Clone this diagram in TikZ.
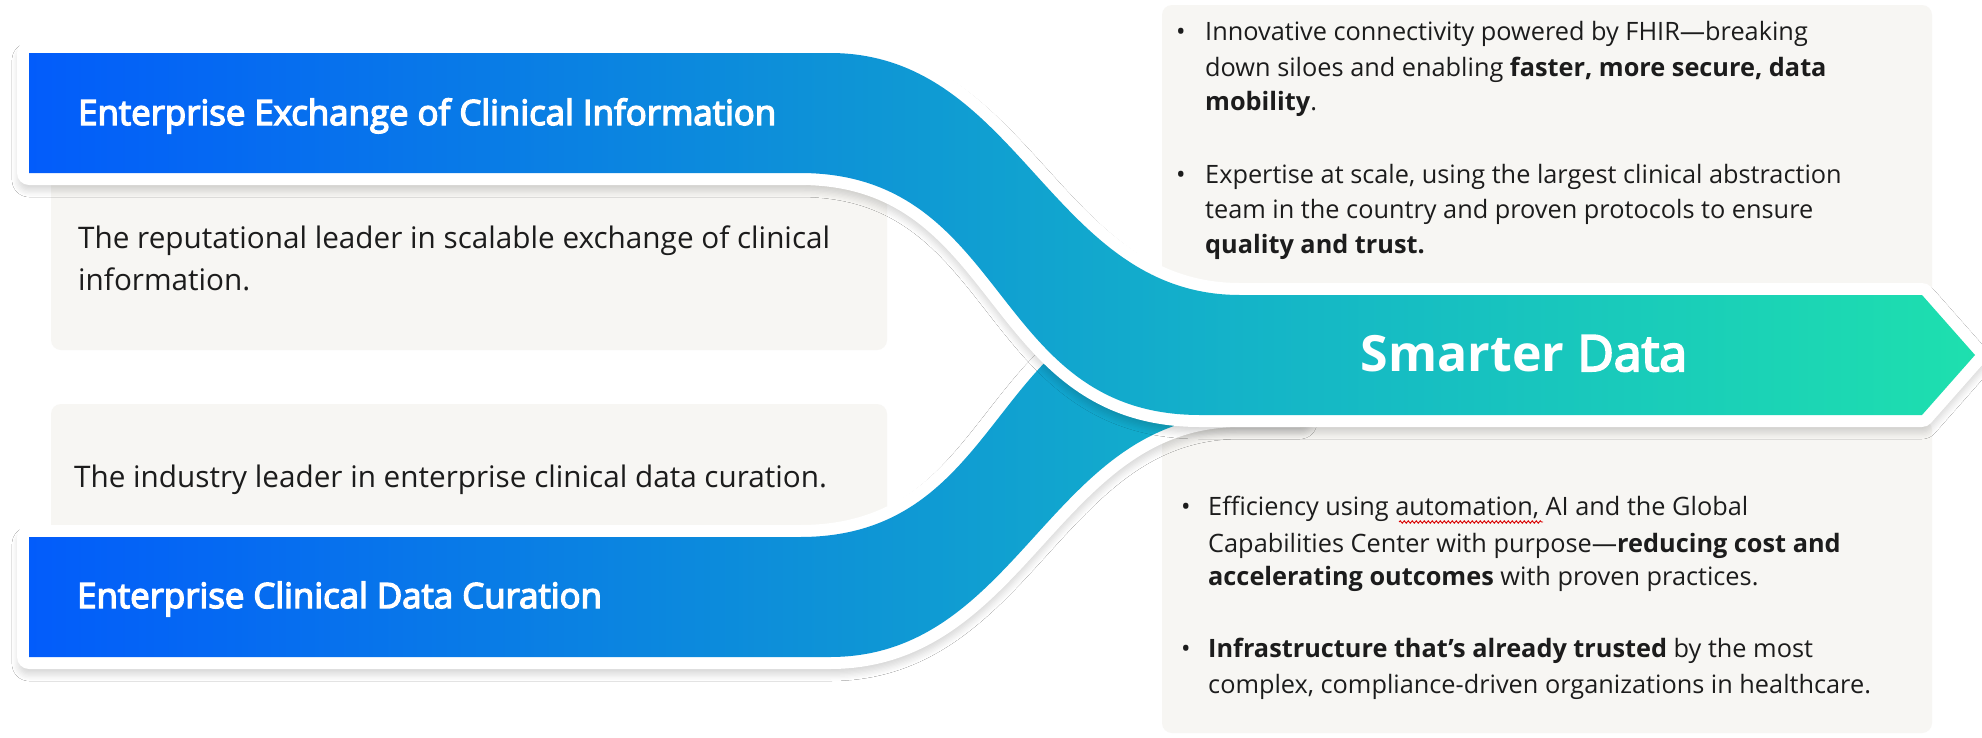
\documentclass[tikz,border=0pt]{standalone}
\usepackage{fontspec}
\setmainfont{Open Sans}
\newfontfamily\semib{Open Sans}[FakeBold=4]
\usetikzlibrary{shadows.blur,decorations.pathmorphing}
\definecolor{rb0}{RGB}{2,90,252}
\definecolor{rb1}{RGB}{14,148,214}
\definecolor{rb2}{RGB}{20,180,200}
\definecolor{rb3}{RGB}{30,224,174}
\definecolor{boxgray}{RGB}{247,246,243}
\definecolor{textdark}{RGB}{28,28,28}
\pgfdeclarehorizontalshading{ribbonshade}{100bp}{color(0bp)=(rb0); color(25bp)=(rb0); color(46.4bp)=(rb1); color(56.5bp)=(rb2); color(75bp)=(rb3); color(100bp)=(rb3)}
\def\toprib{(29,53) -- (830,53) .. controls (1020,53) and (1050,295) .. (1240,295) -- (1922,295) -- (1975,355) -- (1922,415) -- (1200,415) .. controls (989,415) and (1011,173) .. (800,173) -- (29,173) -- cycle}
\def\botrib{(29,537) -- (800,537) .. controls (1011,537) and (989,295) .. (1200,295) -- (1300,295) -- (1300,415) -- (1240,415) .. controls (1050,415) and (1020,657) .. (830,657) -- (29,657) -- cycle}
\tikzset{
  shad/.style={blur shadow={shadow xshift=0pt, shadow yshift=-7pt, shadow blur radius=17pt, shadow blur steps=14, shadow opacity=45}},
  whiteborder/.style={draw=white, fill=white, line width=24pt, line join=round},
  graybox/.style={fill=boxgray, rounded corners=10pt},
  ttl/.style={anchor=base west, inner sep=0pt, text=white, font=\semib\fontsize{34.8}{40}\selectfont},
  desc/.style={anchor=base west, inner sep=0pt, text=textdark, font=\fontsize{29.7}{36}\selectfont},
  rtxt/.style={anchor=base west, inner sep=0pt, text=textdark, font=\fontsize{25.3}{30}\selectfont},
}
\begin{document}
\begin{tikzpicture}[x=1pt,y=-1pt]
\useasboundingbox (0,0) rectangle (1982,737);
\fill[white] (0,0) rectangle (1982,737);
% gray text boxes
\path[graybox] (51,175) rectangle (887,350);
\path[graybox] (51,404) rectangle (887,540);
\path[graybox] (1162,5) rectangle (1932,300);
\path[graybox] (1162,420) rectangle (1932,733);
% bottom ribbon
\path[shad, whiteborder] \botrib;
\begin{scope}
  \clip \botrib;
  \shade[shading=ribbonshade] (0,0) rectangle (1982,737);
\end{scope}
% top ribbon with arrow
\path[shad, whiteborder] \toprib;
\begin{scope}
  \clip \toprib;
  \shade[shading=ribbonshade] (0,0) rectangle (1982,737);
\end{scope}
% titles
\node[ttl] (t1) at (78,125) {Enterprise Exchange of Clinical Information};
\node[ttl] (t2) at (77,608) {Enterprise Clinical Data Curation};
\node[anchor=base, inner sep=0pt, text=white, font=\fontsize{50}{60}\selectfont] (sm) at (1524,371) {{\bfseries Smarter} {\semib Data}};
% left descriptions
\node[desc] (d1a) at (78,248) {The reputational leader in scalable exchange of clinical};
\node[desc] (d1b) at (78,290) {information.};
\node[desc] (d2) at (74,487) {The industry leader in enterprise clinical data curation.};
% right top
\node[rtxt] (b1) at (1176,40) {•};
\node[rtxt] (r1) at (1205,40) {Innovative connectivity powered by FHIR—breaking};
\node[rtxt] (r2) at (1205,76) {down siloes and enabling \textbf{faster, more secure, data}};
\node[rtxt] (r3) at (1205,110) {\textbf{mobility}.};
\node[rtxt] (b2) at (1176,183) {•};
\node[rtxt] (r4) at (1205,183) {Expertise at scale, using the largest clinical abstraction};
\node[rtxt] (r5) at (1205,218) {team in the country and proven protocols to ensure};
\node[rtxt] (r6) at (1205,253) {\textbf{quality and trust.}};
% right bottom
\node[rtxt] (b3) at (1181,515) {•};
\node[rtxt] (s1) at (1208,515) {Efficiency using automation, AI and the Global};
\node[rtxt] (s2) at (1208,552) {Capabilities Center with purpose—\textbf{reducing cost and}};
\node[rtxt] (s3) at (1208,585) {\textbf{accelerating outcomes} with proven practices.};
\node[rtxt] (b4) at (1181,657) {•};
\node[rtxt] (s4) at (1208,657) {\textbf{Infrastructure that’s already trusted} by the most};
\node[rtxt] (s5) at (1208,693) {complex, compliance-driven organizations in healthcare.};
\coordinate (sqa) at (1399,522);
\coordinate (sqb) at (1543,522);
\draw[red!85!black, line width=0.9pt, decorate, decoration={snake, amplitude=1.2pt, segment length=4pt}] (sqa) -- (sqb);
\end{tikzpicture}
\end{document}
